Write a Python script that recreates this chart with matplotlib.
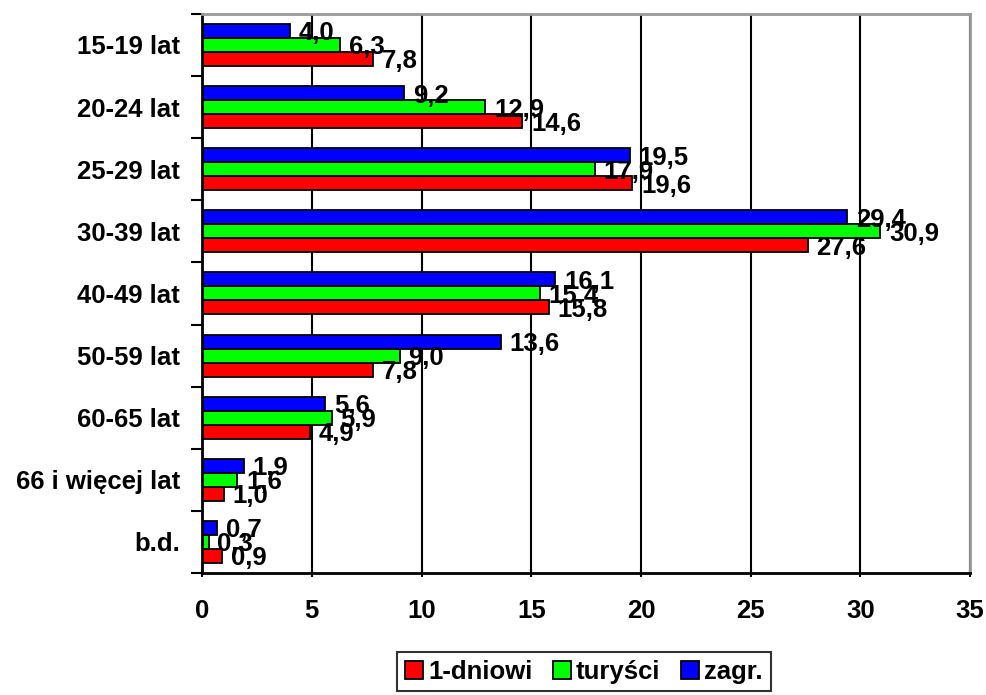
import numpy as np
import matplotlib.pyplot as plt
from matplotlib.patches import Patch

plt.rcParams['font.family'] = ['Liberation Sans', 'DejaVu Sans']
plt.rcParams['font.weight'] = 'bold'

categories = ["15-19 lat", "20-24 lat", "25-29 lat", "30-39 lat", "40-49 lat",
              "50-59 lat", "60-65 lat", "66 i więcej lat", "b.d."]
jednodniowi = [7.8, 14.6, 19.6, 27.6, 15.8, 7.8, 4.9, 1.0, 0.9]
turysci = [6.3, 12.9, 17.9, 30.9, 15.4, 9.0, 5.9, 1.6, 0.3]
zagr = [4.0, 9.2, 19.5, 29.4, 16.1, 13.6, 5.6, 1.9, 0.7]
xticks = [0, 5, 10, 15, 20, 25, 30, 35]

fs = 18.5

fig = plt.figure(figsize=(9.87, 6.95), dpi=100)
ax = fig.add_axes([0.2047, 0.1755, 0.7783, 0.8045])

y = np.arange(len(categories))
h = 0.225
series = [(jednodniowi, '#ff0000', '1-dniowi', h),
          (turysci, '#00ff00', 'turyści', 0),
          (zagr, '#0000ff', 'zagr.', -h)]

ax.set_axisbelow(True)
ax.grid(axis='x', color='black', linewidth=1.5)
for vals, col, lab, off in series:
    ax.barh(y + off, vals, height=h, color=col, edgecolor='black', linewidth=1.3, label=lab)
    for yi, v in zip(y, vals):
        ax.text(v + 0.4, yi + off + 0.04, f"{v:.1f}".replace('.', ','),
                va='center', ha='left', fontsize=fs, fontweight='bold')

ax.set_xlim(0, 35)
ax.set_ylim(len(categories) - 0.5, -0.5)
ax.set_xticks(xticks)
ax.set_xticklabels([str(t) for t in xticks], fontsize=fs, fontweight='bold')
ax.tick_params(axis='x', length=6, width=1.5, pad=16, direction='inout')
ax.set_yticks(y)
ax.set_yticklabels(categories, fontsize=fs, fontweight='bold')
ax.tick_params(axis='y', which='major', length=0, pad=16)
ax.set_yticks(np.arange(len(categories) + 1) - 0.5, minor=True)
ax.tick_params(axis='y', which='minor', length=8, width=1.5, direction='out')

for s in ['left', 'bottom']:
    ax.spines[s].set_linewidth(2)
for s in ['top', 'right']:
    ax.spines[s].set_color('#999999')
    ax.spines[s].set_linewidth(2)

handles = [Patch(facecolor=c, edgecolor='black', linewidth=1.3, label=l) for _, c, l, _ in series]
leg = fig.legend(handles=handles, loc='center', bbox_to_anchor=(0.5915, 0.0335), ncol=3,
                 frameon=True, fancybox=False, edgecolor='black', fontsize=fs,
                 handlelength=0.7, handleheight=0.7, handletextpad=0.2, columnspacing=0.8,
                 borderpad=0.3)
leg.get_frame().set_linewidth(1.5)

fig.savefig('out.png', dpi=100)
